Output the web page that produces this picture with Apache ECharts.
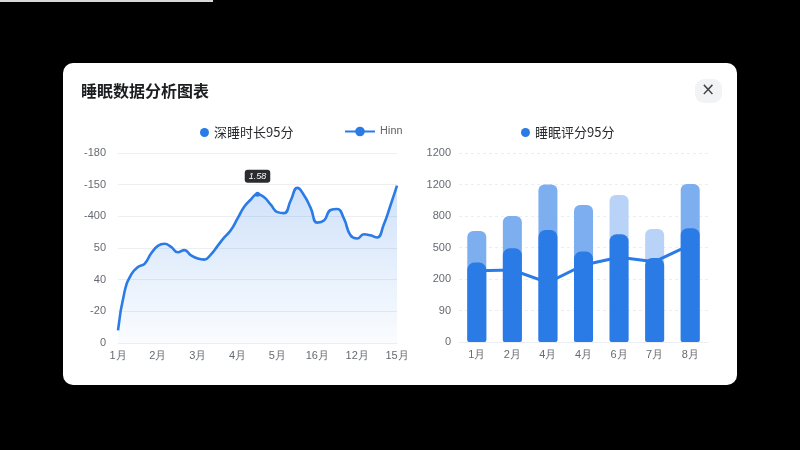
<!DOCTYPE html>
<html>
<head>
<meta charset="utf-8">
<title>睡眠数据分析图表</title>
<script src="https://cdn.jsdelivr.net/npm/echarts@6/dist/echarts.min.js"></script>
<style>
  html, body { margin: 0; padding: 0; background: #000; }
  #chart { width: 800px; height: 450px; }
</style>
</head>
<body>
<div id="chart"></div>
<script>
// left chart: deep sleep curve
var sleepMonths = ["1月", "2月", "3月", "4月", "5月", "16月", "12月", "15月"];
var leftTicks = ["0", "-20", "40", "50", "-400", "-150", "-180"];
var deepSleep = [
  12, 49, 65, 72, 75, 85, 92, 94, 91, 86, 88, 83, 80, 79, 84,
  92, 100, 107, 118, 129, 136, 141, 138, 131, 124, 123, 135, 147, 140, 128,
  114, 116, 126, 127, 118, 102, 99, 103, 102, 100, 112, 130, 149
];
var peakIndex = 21;
var peakText = "1.58";

// right chart: sleep score bars + trend
var scoreMonths = ["1月", "2月", "4月", "4月", "6月", "7月", "8月"];
var rightTicks = ["0", "90", "200", "500", "800", "1200", "1200"];
var scoreTotal = [705, 800, 1000, 870, 933, 718, 1003];
var scoreDeep = [504, 595, 711, 574, 684, 533, 722];
var scoreTrend = [453, 457, 377, 489, 538, 510, 616];
var paleBars = [4, 5];

var blue = "#2b7be6";
var labelColor = "#666a70";
var gridColor = "#eceef2";

var chart = echarts.init(document.getElementById("chart"));

var option = {
  backgroundColor: "#000",
  animation: false,
  title: {
    text: "睡眠数据分析图表",
    left: 76,
    top: 78,
    textStyle: {
      fontSize: 16,
      fontWeight: "bold",
      color: "#1c1d20",
      fontFamily: "Noto Sans CJK SC",
    },
  },
  graphic: [
    {
      type: "rect",
      shape: { x: 63, y: 63, width: 674, height: 322, r: 10 },
      style: { fill: "#fff" },
      z: -10,
    },
    {
      type: "rect",
      shape: { x: 0, y: 0, width: 213, height: 2 },
      style: { fill: "#d8d8d8" },
      z: -10,
    },
    {
      type: "rect",
      shape: { x: 695, y: 79, width: 27, height: 24, r: 9 },
      style: { fill: "#f2f3f5" },
      z: -5,
    },
    {
      type: "text",
      x: 708,
      y: 91,
      style: {
        text: "×",
        fill: "#444",
        fontSize: 17,
        fontWeight: "normal",
        align: "center",
        verticalAlign: "middle",
        fontFamily: "DejaVu Sans",
      },
    },
  ],
  legend: [
    {
      data: [{ name: "深睡时长95分", icon: "circle" }],
      left: 195,
      top: 121,
      itemWidth: 9,
      itemHeight: 9,
      itemGap: 6,
      textStyle: { fontSize: 13, color: "#2a2b2e", fontFamily: "Noto Sans CJK SC" },
    },
    {
      data: ["Hinn"],
      left: 339,
      top: 121,
      itemWidth: 30,
      itemHeight: 12,
      textStyle: { fontSize: 11, color: "#666", fontFamily: "Roboto" },
    },
    {
      data: [{ name: "睡眠评分95分", icon: "circle" }],
      left: 516,
      top: 121,
      itemWidth: 9,
      itemHeight: 9,
      itemGap: 6,
      textStyle: { fontSize: 13, color: "#2a2b2e", fontFamily: "Noto Sans CJK SC" },
    },
  ],
  grid: [
    { left: 118, top: 153, width: 279, height: 190 },
    { left: 459, top: 153, width: 249, height: 189 },
  ],
  xAxis: [
    {
      type: "value",
      gridIndex: 0,
      min: 0,
      max: (sleepMonths.length - 1) * 6,
      interval: 6,
      splitLine: { show: false },
      axisLine: { show: true, lineStyle: { color: gridColor } },
      axisTick: { show: false },
      axisLabel: {
        color: labelColor,
        fontSize: 11,
        margin: 7,
        formatter: function (v) {
          return sleepMonths[v / 6];
        },
      },
    },
    {
      type: "category",
      gridIndex: 1,
      data: scoreMonths,
      axisLine: { show: true, lineStyle: { color: gridColor } },
      axisTick: { show: false },
      axisLabel: { color: labelColor, fontSize: 11, margin: 7 },
    },
  ],
  yAxis: [
    {
      type: "value",
      gridIndex: 0,
      min: 0,
      max: 180,
      interval: 30,
      axisLine: { show: false },
      axisTick: { show: false },
      splitLine: { lineStyle: { color: gridColor } },
      axisLabel: {
        color: labelColor,
        fontSize: 11,
        margin: 12,
        formatter: function (v) {
          return leftTicks[v / 30];
        },
      },
    },
    {
      type: "value",
      gridIndex: 1,
      min: 0,
      max: 1200,
      interval: 200,
      axisLine: { show: false },
      axisTick: { show: false },
      splitLine: { lineStyle: { color: gridColor, type: [3, 3] } },
      axisLabel: {
        color: labelColor,
        fontSize: 11,
        margin: 8,
        formatter: function (v) {
          return rightTicks[v / 200];
        },
      },
    },
  ],
  series: [
    {
      name: "深睡时长95分",
      type: "line",
      xAxisIndex: 0,
      yAxisIndex: 0,
      smooth: 0.5,
      showSymbol: true,
      symbol: "circle",
      symbolSize: 0,
      color: blue,
      lineStyle: { width: 2.6, color: blue },
      areaStyle: {
        color: new echarts.graphic.LinearGradient(0, 0, 0, 1, [
          { offset: 0, color: "rgba(43,123,230,0.32)" },
          { offset: 1, color: "rgba(43,123,230,0.03)" },
        ]),
      },
      data: deepSleep.map(function (v, i) {
        var item = { value: [i, v] };
        if (i === peakIndex) {
          item.symbolSize = 5;
          item.label = {
            show: true,
            position: "top",
            distance: 9,
            formatter: peakText,
            color: "#fff",
            fontSize: 9,
            fontStyle: "italic",
            backgroundColor: "#2b2c2f",
            borderRadius: 3,
            padding: [2, 4],
          };
        }
        return item;
      }),
    },
    {
      name: "Hinn",
      type: "line",
      xAxisIndex: 0,
      yAxisIndex: 0,
      symbol: "circle",
      color: blue,
      lineStyle: { width: 3, color: blue },
      data: [],
    },
    {
      name: "总评分",
      type: "bar",
      xAxisIndex: 1,
      yAxisIndex: 1,
      barWidth: 19,
      barGap: "-100%",
      z: 2,
      data: scoreTotal.map(function (v, i) {
        return {
          value: v,
          itemStyle: { color: paleBars.indexOf(i) >= 0 ? "#b8d3f7" : "#7daef0" },
        };
      }),
      itemStyle: { borderRadius: [6, 6, 2, 2] },
    },
    {
      name: "睡眠评分95分",
      type: "bar",
      xAxisIndex: 1,
      yAxisIndex: 1,
      barWidth: 19,
      barGap: "-100%",
      z: 3,
      color: blue,
      itemStyle: { color: blue, borderRadius: [7, 7, 2, 2] },
      data: scoreDeep,
    },
    {
      name: "趋势",
      type: "line",
      xAxisIndex: 1,
      yAxisIndex: 1,
      z: 4,
      showSymbol: false,
      lineStyle: { width: 3, color: blue },
      data: scoreTrend,
    },
  ],
};

chart.setOption(option);
</script>
</body>
</html>
